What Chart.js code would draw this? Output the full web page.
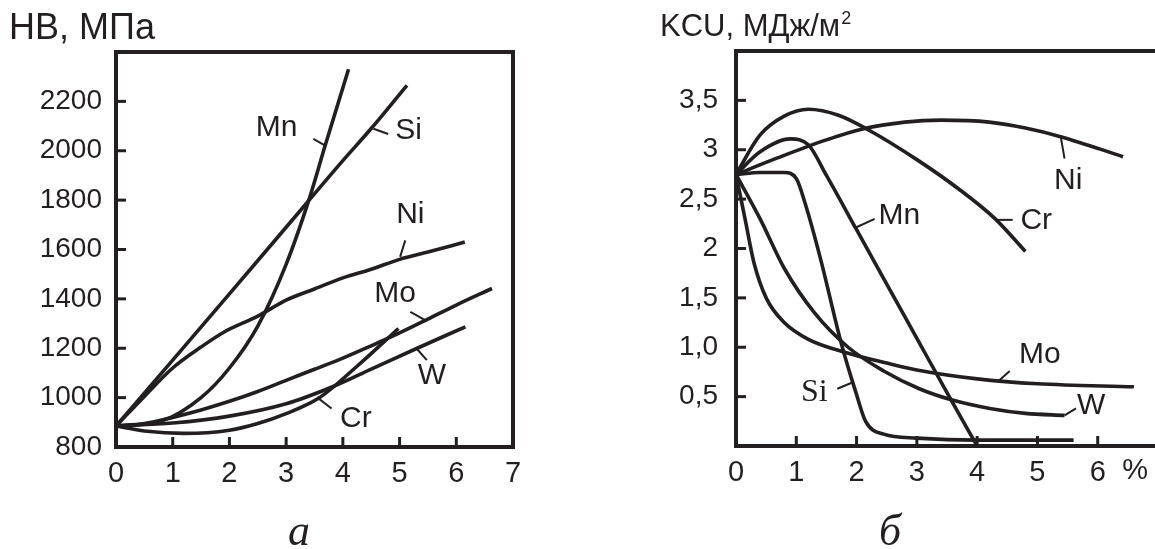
<!DOCTYPE html>
<html>
<head>
<meta charset="utf-8">
<script src="https://cdn.jsdelivr.net/npm/chart.js@4.4.1/dist/chart.umd.min.js"></script>
<style>
  html, body { margin: 0; padding: 0; background: #fff; overflow: hidden; width: 1155px; height: 549px; }
  #hbChart { position: absolute; left: 0; top: 0; }
  #kcuChart { position: absolute; left: 580px; top: 0; }
</style>
</head>
<body>
<canvas id="hbChart" width="560" height="549"></canvas>
<canvas id="kcuChart" width="620" height="549"></canvas>
<script>
// ---- (а) hardness HB, МПа vs element content, %
const hbXTicks = ['0', '1', '2', '3', '4', '5', '6', '7'];
const hbYTicks = ['800', '1000', '1200', '1400', '1600', '1800', '2000', '2200', ''];

const hbMnX = [0, 0.8, 1.5, 2.0, 2.5, 3.0, 3.4, 3.7, 4.1];
const hbMnY = [885, 905, 1000, 1120, 1290, 1540, 1800, 2030, 2330];
const hbSiX = [0, 1, 2, 3, 4, 4.5, 5.13];
const hbSiY = [885, 1152, 1420, 1690, 1960, 2090, 2265];
const hbNiX = [0, 0.5, 1.0, 1.5, 1.9, 2.5, 3.0, 3.5, 4.0, 4.5, 5.0, 5.5, 6.15];
const hbNiY = [885, 1005, 1120, 1205, 1265, 1330, 1395, 1440, 1485, 1520, 1560, 1590, 1630];
const hbMoX = [0, 0.5, 1.0, 1.5, 2.0, 2.5, 3.0, 3.5, 4.0, 4.5, 5.0, 5.5, 6.0, 6.63];
const hbMoY = [885, 895, 920, 950, 985, 1025, 1070, 1115, 1160, 1210, 1262, 1318, 1375, 1442];
const hbWX = [0, 1, 2, 3, 3.83, 4.5, 5.3, 6.16];
const hbWY = [885, 897, 925, 975, 1045, 1115, 1199, 1287];
const hbCrX = [0, 0.5, 1.2, 2.0, 2.5, 3.0, 3.57, 4.24, 4.98];
const hbCrY = [885, 865, 855, 868, 895, 935, 997, 1125, 1280];

// ---- (б) impact toughness KCU, МДж/м² vs element content, %
const kcuXTicks = ['0', '1', '2', '3', '4', '5', '6', ''];
const kcuYTicks = ['', '0,5', '1,0', '1,5', '2', '2,5', '3', '3,5', ''];

const kcuNiX = [0, 0.7, 1.5, 2.1, 2.8, 3.4, 4.2, 4.8, 5.4, 6.42];
const kcuNiY = [2.75, 2.92, 3.1, 3.21, 3.28, 3.3, 3.28, 3.22, 3.13, 2.93];
const kcuCrX = [0, 0.4, 0.8, 1.2, 1.7, 2.2, 3.0, 3.7, 4.3, 4.8];
const kcuCrY = [2.75, 3.15, 3.34, 3.41, 3.35, 3.2, 2.9, 2.6, 2.3, 1.97];
const kcuMnX = [0, 0.4, 0.9, 1.2, 1.5, 2.0, 2.5, 3.0, 3.5, 4.0];
const kcuMnY = [2.75, 2.98, 3.11, 3.05, 2.74, 2.19, 1.64, 1.09, 0.54, 0.0];
const kcuSiX = [0, 0.4, 0.8, 1.0, 1.15, 1.4, 1.75, 2.0, 2.15, 2.45, 3.0, 4.0, 5.6];
const kcuSiY = [2.75, 2.77, 2.77, 2.71, 2.45, 1.9, 1.03, 0.52, 0.25, 0.12, 0.08, 0.06, 0.06];
const kcuMoX = [0, 0.15, 0.3, 0.5, 0.8, 1.2, 1.8, 2.5, 3.0, 4.0, 5.0, 6.6];
const kcuMoY = [2.75, 2.3, 1.85, 1.5, 1.25, 1.08, 0.95, 0.84, 0.77, 0.68, 0.63, 0.6];
const kcuWX = [0, 0.4, 0.8, 1.3, 1.86, 2.45, 3.04, 3.62, 4.21, 4.8, 5.45];
const kcuWY = [2.75, 2.3, 1.8, 1.35, 1.0, 0.76, 0.58, 0.46, 0.38, 0.33, 0.31];

const ink = '#231f20';
const sans = "'Liberation Sans', Arial, sans-serif";
const serif = "'Liberation Serif', 'Times New Roman', serif";

function curve(xs, ys) {
    return {
        data: xs.map((x, i) => ({ x: x, y: ys[i] })),
        borderColor: ink,
        borderWidth: 3.6,
        pointRadius: 0,
        fill: false,
        cubicInterpolationMode: 'monotone'
    };
}

// frame, inward tick marks, curve labels with leader lines, titles
function decorPlugin(cfg) {
    return {
        id: 'decor',
        afterDatasetsDraw(chart) {
            const ctx = chart.ctx;
            const a = chart.chartArea;
            const sx = chart.scales.x, sy = chart.scales.y;
            ctx.save();
            ctx.strokeStyle = ink;
            ctx.fillStyle = ink;
            ctx.lineCap = 'butt';

            // tick marks pointing into the plot
            ctx.lineWidth = 3;
            cfg.xMarks.forEach(v => {
                const p = sx.getPixelForValue(v);
                ctx.beginPath(); ctx.moveTo(p, a.bottom); ctx.lineTo(p, a.bottom - 10); ctx.stroke();
            });
            cfg.yMarks.forEach(v => {
                const p = sy.getPixelForValue(v);
                ctx.beginPath(); ctx.moveTo(a.left, p); ctx.lineTo(a.left + 10, p); ctx.stroke();
            });

            // box
            ctx.lineWidth = 4;
            ctx.strokeRect(a.left, a.top, a.right - a.left, a.bottom - a.top);

            // leader lines + labels
            ctx.lineWidth = 2;
            cfg.labels.forEach(l => {
                ctx.beginPath();
                ctx.moveTo(sx.getPixelForValue(l.lead[0]), sy.getPixelForValue(l.lead[1]));
                ctx.lineTo(sx.getPixelForValue(l.lead[2]), sy.getPixelForValue(l.lead[3]));
                ctx.stroke();
                ctx.font = l.font || ('30px ' + sans);
                ctx.textAlign = 'center';
                ctx.textBaseline = 'middle';
                ctx.fillText(l.text, sx.getPixelForValue(l.at[0]), sy.getPixelForValue(l.at[1]));
            });

            // free texts (titles, captions)
            cfg.texts.forEach(t => {
                ctx.font = t.font;
                ctx.textAlign = t.align || 'left';
                ctx.textBaseline = 'alphabetic';
                ctx.fillText(t.text, t.x, t.y);
            });
            if (cfg.after) cfg.after(chart, ctx);
            ctx.restore();
        }
    };
}

function baseOptions(o) {
    return {
        responsive: false,
        animation: false,
        devicePixelRatio: 1,
        layout: { padding: o.padding },
        plugins: { legend: { display: false }, tooltip: { enabled: false } },
        scales: {
            x: {
                type: 'linear', min: o.xMin, max: o.xMax,
                afterFit(s) { s.height = o.xAxisH; },
                grid: { display: false, drawTicks: false },
                border: { display: false },
                ticks: {
                    stepSize: 1, autoSkip: false, maxRotation: 0, padding: 10,
                    color: ink, font: { family: sans, size: 29 },
                    callback: (v, i) => o.xLabels[i] ?? ''
                }
            },
            y: {
                type: 'linear', min: o.yMin, max: o.yMax,
                afterFit(s) { s.width = o.yAxisW; },
                grid: { display: false, drawTicks: false },
                border: { display: false },
                ticks: {
                    stepSize: o.yStep, autoSkip: false, padding: o.yPad,
                    color: ink, font: { family: sans, size: 28 },
                    callback: (v, i) => o.yLabels[i] ?? ''
                }
            }
        }
    };
}

// ---------- chart а
new Chart(document.getElementById('hbChart'), {
    type: 'line',
    data: {
        datasets: [
            curve(hbMnX, hbMnY), curve(hbSiX, hbSiY), curve(hbNiX, hbNiY),
            curve(hbMoX, hbMoY), curve(hbWX, hbWY), curve(hbCrX, hbCrY)
        ]
    },
    options: baseOptions({
        padding: { top: 52, right: 47, bottom: 0, left: 0 },
        xMin: 0, xMax: 7, xAxisH: 102, xLabels: hbXTicks,
        yMin: 800, yMax: 2400, yStep: 200, yAxisW: 116, yPad: 14, yLabels: hbYTicks
    }),
    plugins: [decorPlugin({
        xMarks: [1, 2, 3, 4, 5, 6],
        yMarks: [1000, 1200, 1400, 1600, 1800, 2000, 2200],
        labels: [
            { text: 'Mn', at: [2.83, 2095], lead: [3.48, 2048, 3.69, 2021] },
            { text: 'Si', at: [5.16, 2080], lead: [4.54, 2089, 4.80, 2068] },
            { text: 'Ni', at: [5.19, 1742], lead: [5.01, 1570, 5.10, 1637] },
            { text: 'Mo', at: [4.92, 1420], lead: [5.45, 1314, 5.19, 1347] },
            { text: 'W', at: [5.57, 1088], lead: [5.30, 1199, 5.48, 1152] },
            { text: 'Cr', at: [4.23, 916], lead: [3.57, 997, 3.80, 956] }
        ],
        texts: [
            { text: 'НВ, МПа', x: 9, y: 39, font: '36px ' + sans },
            { text: 'а', x: 299, y: 545, align: 'center', font: 'italic 44px ' + serif }
        ]
    })]
});

// ---------- chart б
new Chart(document.getElementById('kcuChart'), {
    type: 'line',
    data: {
        datasets: [
            curve(kcuNiX, kcuNiY), curve(kcuCrX, kcuCrY), curve(kcuMnX, kcuMnY),
            curve(kcuSiX, kcuSiY), curve(kcuMoX, kcuMoY), curve(kcuWX, kcuWY)
        ]
    },
    options: baseOptions({
        padding: { top: 51, right: 42, bottom: 0, left: 0 },
        xMin: 0, xMax: 7, xAxisH: 103, xLabels: kcuXTicks,
        yMin: 0, yMax: 4, yStep: 0.5, yAxisW: 156, yPad: 18, yLabels: kcuYTicks
    }),
    plugins: [decorPlugin({
        xMarks: [1, 2, 3, 4, 5, 6],
        yMarks: [0.5, 1, 1.5, 2, 2.5, 3, 3.5],
        labels: [
            { text: 'Ni', at: [5.51, 2.69], lead: [5.39, 3.12, 5.45, 2.91] },
            { text: 'Cr', at: [4.98, 2.28], lead: [4.30, 2.29, 4.59, 2.29] },
            { text: 'Mn', at: [2.71, 2.33], lead: [1.98, 2.21, 2.30, 2.30] },
            { text: 'Mo', at: [5.04, 0.92], lead: [4.36, 0.66, 4.54, 0.76] },
            { text: 'W', at: [5.89, 0.41], lead: [5.45, 0.31, 5.64, 0.38] },
            { text: 'Si', at: [1.30, 0.54], lead: [1.68, 0.58, 1.92, 0.64], font: '32px ' + serif }
        ],
        texts: [
            { text: 'б', x: 310, y: 545, align: 'center', font: 'italic 44px ' + serif }
        ],
        after(chart, ctx) {
            // axis title with superscript, and the % unit after the last tick
            ctx.font = '31px ' + sans;
            ctx.textAlign = 'left';
            ctx.textBaseline = 'alphabetic';
            const t = 'KCU, МДж/м';
            ctx.fillText(t, 80, 36);
            const w = ctx.measureText(t).width;
            ctx.font = '18px ' + sans;
            ctx.fillText('2', 80 + w + 1, 24);
            ctx.font = '29px ' + sans;
            ctx.textAlign = 'center';
            ctx.textBaseline = 'top';
            const sx = chart.scales.x;
            ctx.fillText('%', sx.getPixelForValue(6.62), chart.chartArea.bottom + 10);
        }
    })]
});
</script>
</body>
</html>
